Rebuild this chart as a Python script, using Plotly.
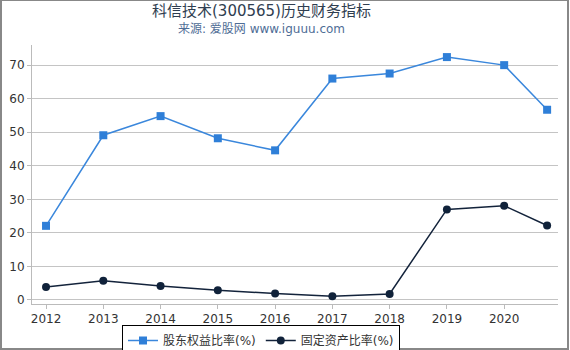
import plotly.graph_objects as go

years = [2012, 2013, 2014, 2015, 2016, 2017, 2018, 2019, 2020, 2020.75]
equity_ratio = [22.1, 49.1, 54.8, 48.2, 44.6, 66.0, 67.5, 72.4, 70.0, 56.7]
fixed_asset_ratio = [3.9, 5.7, 4.2, 2.9, 1.9, 1.1, 1.8, 27.0, 28.1, 22.2]
tick_years = [2012, 2013, 2014, 2015, 2016, 2017, 2018, 2019, 2020]
tick_labels = [str(y) for y in tick_years]
y_ticks = [0, 10, 20, 30, 40, 50, 60, 70]

FONT = "DejaVu Sans, Noto Sans CJK SC, sans-serif"
W, H = 570, 350
ML, MR, MT, MB = 32, 12, 45, 46
PW, PH = W - ML - MR, H - MT - MB

def px(x):
    return (x - ML) / PW

def py(y):
    return (H - MB - y) / PH

fig = go.Figure()
fig.add_trace(go.Scatter(
    x=years, y=equity_ratio, name="股东权益比率(%)", mode="lines+markers",
    line=dict(color="#3a87dc", width=1.5),
    marker=dict(symbol="square", size=8, color="#2f7fd8"),
))
fig.add_trace(go.Scatter(
    x=years, y=fixed_asset_ratio, name="固定资产比率(%)", mode="lines+markers",
    line=dict(color="#13233b", width=1.5),
    marker=dict(symbol="circle", size=8, color="#10223a"),
))

fig.update_layout(
    width=W, height=H,
    margin=dict(l=ML, r=MR, t=MT, b=MB, autoexpand=False),
    paper_bgcolor="white", plot_bgcolor="white",
    font=dict(family=FONT, size=12, color="#333333"),
    showlegend=True,
    legend=dict(
        orientation="h", x=px(261), xanchor="center", y=py(325), yanchor="top",
        bordercolor="#000000", borderwidth=1, font=dict(size=12, color="#333333"),
        itemwidth=30, tracegroupgap=0,
    ),
    xaxis=dict(
        range=[2011.755, 2020.94], tickmode="array", tickvals=tick_years, ticktext=tick_labels,
        showgrid=False, zeroline=False, showline=True, linecolor="#bbbbbb", linewidth=1,
        ticks="outside", ticklen=4, tickcolor="#bbbbbb", tickfont=dict(size=12, color="#333333"),
    ),
    yaxis=dict(
        range=[-1.2, 76], tickmode="array", tickvals=y_ticks,
        showgrid=True, gridcolor="#c4c4c4", gridwidth=1, zeroline=False,
        showline=True, linecolor="#bbbbbb", linewidth=1,
        ticks="outside", ticklen=4, tickcolor="#bbbbbb", tickfont=dict(size=12, color="#333333"),
    ),
    annotations=[
        dict(text="科信技术(300565)历史财务指标", x=px(261), y=py(11), xref="paper", yref="paper",
             xanchor="center", yanchor="middle", showarrow=False,
             font=dict(size=15, color="#2f3e50", family=FONT)),
        dict(text="来源: 爱股网 www.iguuu.com", x=px(261), y=py(29), xref="paper", yref="paper",
             xanchor="center", yanchor="middle", showarrow=False,
             font=dict(size=12, color="#4f6d96", family=FONT)),
    ],
    shapes=[
        dict(type="rect", xref="paper", yref="paper",
             x0=px(1), x1=px(568), y0=py(349), y1=py(0),
             line=dict(color="#888888", width=2), fillcolor="rgba(0,0,0,0)", layer="above"),
    ],
)

fig.write_html("out.html")
